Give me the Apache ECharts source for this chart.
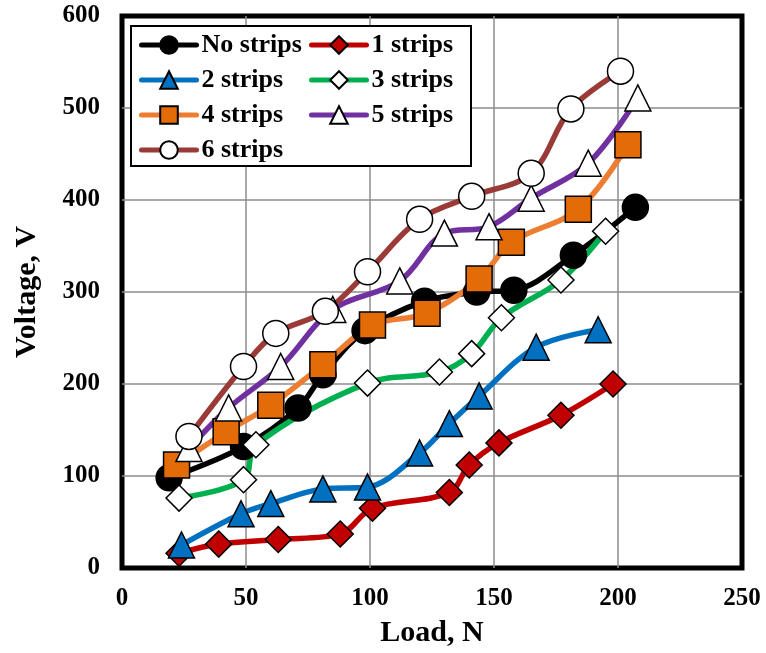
<!DOCTYPE html>
<html>
<head>
<meta charset="utf-8">
<script src="https://cdn.jsdelivr.net/npm/echarts@6/dist/echarts.min.js"></script>
<style>
  html, body { margin: 0; padding: 0; background: #fff; }
  #chart { width: 766px; height: 653px; }
</style>
</head>
<body>
<div id="chart"></div>
<script>
// Load (N) and measured voltage (V) for each strip count
const seriesNames = ['No strips', '1 strips', '2 strips', '3 strips', '4 strips', '5 strips', '6 strips'];

const loadNoStrips = [19, 49, 71, 81, 98, 122, 143, 158, 182, 207];
const voltNoStrips = [98, 132, 174, 210, 258, 290, 300, 302, 340, 392];

const load1Strips = [23, 39, 63, 88, 101, 132, 140, 152, 177, 198];
const volt1Strips = [16, 26, 31, 37, 65, 82, 112, 136, 166, 200];

const load2Strips = [24, 48, 60, 81, 99, 120, 132, 144, 167, 192];
const volt2Strips = [25, 59, 70, 86, 88, 125, 157, 187, 240, 259];

const load3Strips = [23, 49, 54, 99, 128, 141, 153, 177, 195];
const volt3Strips = [76, 96, 134, 201, 213, 233, 272, 313, 366];

const load4Strips = [22, 42, 60, 81, 101, 123, 144, 157, 184, 204];
const volt4Strips = [112, 148, 177, 221, 264, 277, 314, 354, 390, 460];

const load5Strips = [27, 43, 64, 85, 112, 130, 148, 165, 188, 208];
const volt5Strips = [130, 174, 219, 281, 312, 364, 371, 402, 440, 511];

const load6Strips = [27, 49, 62, 82, 99, 120, 141, 165, 181, 201];
const volt6Strips = [143, 219, 255, 279, 322, 379, 404, 429, 499, 540];

const xTicks = [0, 50, 100, 150, 200, 250];
const yTicks = [0, 100, 200, 300, 400, 500, 600];

const FONT = 'Liberation Serif';

function pairs(xs, ys) {
  return xs.map((x, i) => [x, ys[i]]);
}

function makeSeries(name, xs, ys, lineColor, symbol, fill) {
  return {
    name: name,
    type: 'line',
    data: pairs(xs, ys),
    smooth: 0.35,
    symbol: symbol,
    symbolSize: 26,
    showAllSymbol: true,
    clip: false,
    lineStyle: { color: lineColor, width: 5.5, cap: 'round', join: 'round' },
    itemStyle: { color: fill, borderColor: '#000', borderWidth: 1.5 },
    emphasis: { disabled: true },
    animation: false
  };
}

const chart = echarts.init(document.getElementById('chart'), null, { renderer: 'canvas' });

const legendText = {
  fontFamily: FONT, fontWeight: 'bold', fontSize: 26, color: '#000', lineHeight: 22
};

const legendCommon = {
  orient: 'vertical',
  top: 32,
  padding: 0,
  itemWidth: 55, itemHeight: 22, itemGap: 9,
  textStyle: legendText,
  lineStyle: { width: 5, cap: 'round' },
  selectedMode: false,
  z: 60
};

chart.setOption({
  backgroundColor: '#fff',
  animation: false,
  grid: {
    left: 122, right: 24, top: 16, bottom: 85,
    show: true, borderColor: '#000', borderWidth: 5, backgroundColor: 'transparent'
  },
  xAxis: {
    type: 'value',
    min: xTicks[0], max: xTicks[xTicks.length - 1], interval: 50,
    name: 'Load, N',
    nameLocation: 'middle',
    nameGap: 50,
    nameTextStyle: { fontFamily: FONT, fontWeight: 'bold', fontSize: 30, color: '#000' },
    axisLine: { show: false },
    axisTick: { show: false },
    axisLabel: { fontFamily: FONT, fontWeight: 'bold', fontSize: 25, color: '#000', margin: 18 },
    splitLine: { show: true, showMinLine: false, showMaxLine: false, lineStyle: { color: '#8c8c8c', width: 1.5 } }
  },
  yAxis: {
    type: 'value',
    min: yTicks[0], max: yTicks[yTicks.length - 1], interval: 100,
    name: 'Voltage, V',
    nameLocation: 'middle',
    nameGap: 80,
    nameTextStyle: { fontFamily: FONT, fontWeight: 'bold', fontSize: 30, color: '#000' },
    axisLine: { show: false },
    axisTick: { show: false },
    axisLabel: { fontFamily: FONT, fontWeight: 'bold', fontSize: 25, color: '#000', margin: 22 },
    splitLine: { show: true, showMinLine: false, showMaxLine: false, lineStyle: { color: '#8c8c8c', width: 1.5 } }
  },
  graphic: [{
    type: 'rect',
    shape: { x: 131, y: 26, width: 340, height: 140 },
    style: { fill: '#fff', stroke: '#000', lineWidth: 2 },
    z: 50
  }],
  legend: [
    Object.assign({}, legendCommon, {
      data: [seriesNames[0], seriesNames[2], seriesNames[4], seriesNames[6]],
      left: 139
    }),
    Object.assign({}, legendCommon, {
      data: [seriesNames[1], seriesNames[3], seriesNames[5]],
      left: 309
    })
  ],
  series: [
    makeSeries(seriesNames[0], loadNoStrips, voltNoStrips, '#000000', 'circle', '#000000'),
    makeSeries(seriesNames[1], load1Strips, volt1Strips, '#C00000', 'diamond', '#C00000'),
    makeSeries(seriesNames[2], load2Strips, volt2Strips, '#0070C0', 'triangle', '#0070C0'),
    makeSeries(seriesNames[3], load3Strips, volt3Strips, '#00B050', 'diamond', '#ffffff'),
    makeSeries(seriesNames[4], load4Strips, volt4Strips, '#ED7D31', 'rect', '#E36C09'),
    makeSeries(seriesNames[5], load5Strips, volt5Strips, '#7030A0', 'triangle', '#ffffff'),
    makeSeries(seriesNames[6], load6Strips, volt6Strips, '#9A3B38', 'circle', '#ffffff')
  ]
});
</script>
</body>
</html>
